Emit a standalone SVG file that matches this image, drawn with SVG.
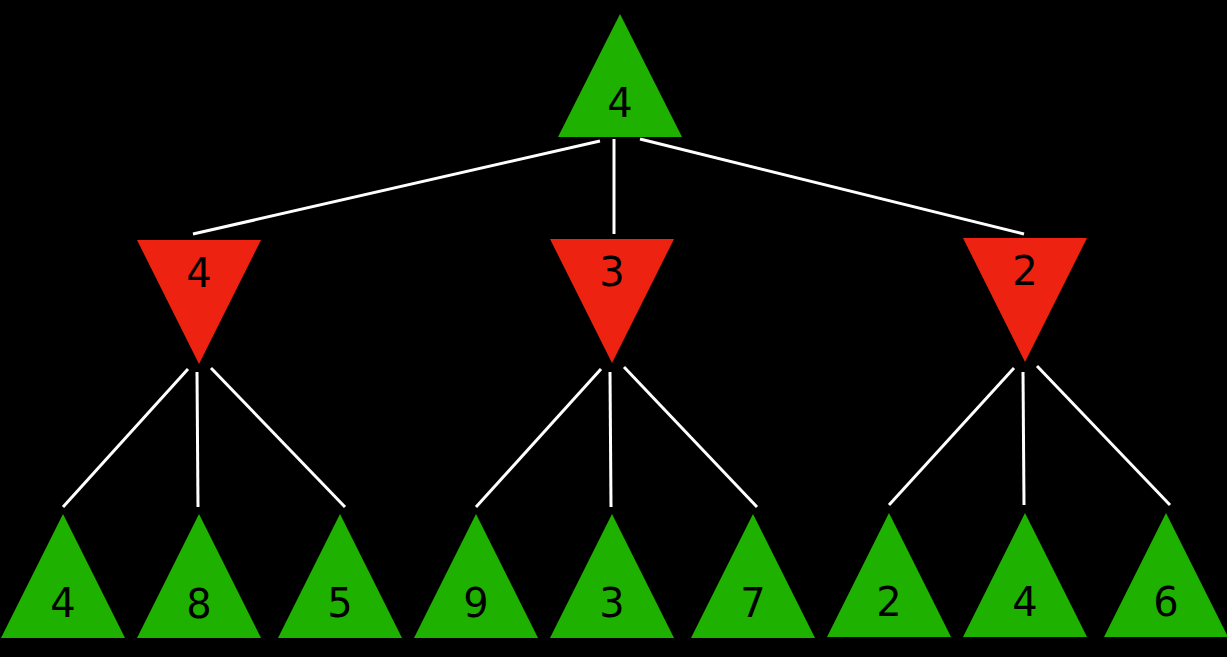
<svg xmlns="http://www.w3.org/2000/svg" width="1227" height="657" viewBox="0 0 1227 657">
<style>
.g{fill:#1fb100}.r{fill:#ee2211}
text{font-family:"DejaVu Sans",sans-serif;font-size:40px;fill:#000;text-anchor:middle}
#edges line{stroke:#fff;stroke-width:3}
</style>
<rect width="1227" height="657" fill="#000"/>
<g id="edges">
<line x1="600" y1="141" x2="193" y2="234"/><line x1="614" y1="139" x2="614" y2="234"/><line x1="640" y1="139" x2="1024" y2="234"/>
<line x1="188" y1="369" x2="63" y2="507"/><line x1="197" y1="372" x2="198" y2="507"/><line x1="211" y1="368" x2="345" y2="507"/>
<line x1="601" y1="369" x2="476" y2="507"/><line x1="610" y1="372" x2="611" y2="507"/><line x1="624" y1="367" x2="757" y2="507"/>
<line x1="1014" y1="368" x2="889" y2="505"/><line x1="1023" y1="372" x2="1024" y2="505"/><line x1="1037" y1="366" x2="1170" y2="505"/>
</g>
<g id="root"><polygon class="g" points="620,14 682,137 558,137"/><text x="620" y="117">4</text></g>
<g id="m1"><polygon class="r" points="137,240 261,240 199,364"/><text x="199" y="287">4</text></g>
<g id="m2"><polygon class="r" points="550,239 674,239 612,363"/><text x="612" y="286">3</text></g>
<g id="m3"><polygon class="r" points="963,238 1087,238 1025,362"/><text x="1025" y="285">2</text></g>
<g id="l1"><polygon class="g" points="63,514 125,638 1,638"/><text x="63" y="617">4</text></g>
<g id="l2"><polygon class="g" points="199,514 261,638 137,638"/><text x="199" y="618">8</text></g>
<g id="l3"><polygon class="g" points="340,514 402,638 278,638"/><text x="340" y="617">5</text></g>
<g id="l4"><polygon class="g" points="476,514 538,638 414,638"/><text x="476" y="617">9</text></g>
<g id="l5"><polygon class="g" points="612,514 674,638 550,638"/><text x="612" y="617">3</text></g>
<g id="l6"><polygon class="g" points="753,514 815,638 691,638"/><text x="753" y="617">7</text></g>
<g id="l7"><polygon class="g" points="889,513 951,637 827,637"/><text x="889" y="616">2</text></g>
<g id="l8"><polygon class="g" points="1025,513 1087,637 963,637"/><text x="1025" y="616">4</text></g>
<g id="l9"><polygon class="g" points="1166,513 1228,637 1104,637"/><text x="1166" y="616">6</text></g>
</svg>
